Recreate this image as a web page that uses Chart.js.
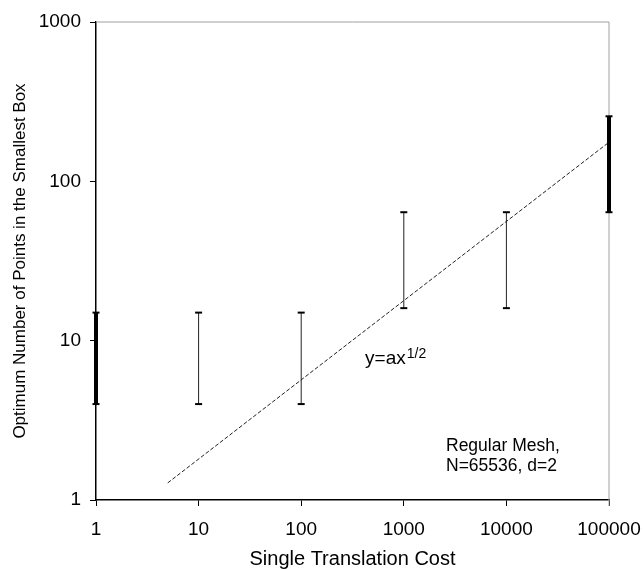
<!DOCTYPE html>
<html>
<head>
<meta charset="utf-8">
<script src="https://cdn.jsdelivr.net/npm/chart.js@4.4.1/dist/chart.umd.min.js"></script>
<style>
  html, body { margin: 0; padding: 0; background: #fff; }
  #wrap { width: 644px; height: 569px; }
</style>
</head>
<body>
<div id="wrap"><canvas id="chart" width="644" height="569"></canvas></div>
<script>
// error bars: translation cost -> range of optimum box size
const costs = [1, 10, 100, 1000, 10000, 100000];
const lowVals = [4, 4, 4, 16, 16, 64];
const highVals = [15, 15, 15, 64, 64, 256];
const thickBars = [true, false, false, false, false, true];

// fitted y = a x^(1/2) guide line (end points)
const fitX = [5, 100000];
const fitY = [1.28, 176];

const xTicks = [1, 10, 100, 1000, 10000, 100000];
const yTicks = [1, 10, 100, 1000];

const FONT = "'Liberation Sans', Arial, sans-serif";

const datasets = costs.map((c, i) => ({
  data: [{ x: c, y: lowVals[i] }, { x: c, y: highVals[i] }],
  borderColor: thickBars[i] ? "#000" : "#222",
  borderWidth: thickBars[i] ? 4 : 1,
  pointStyle: "line",
  pointRadius: 3.5,
  pointBorderWidth: 2,
  pointBorderColor: "#000",
  showLine: true,
  clip: false,
}));

datasets.push({
  data: fitX.map((x, i) => ({ x, y: fitY[i] })),
  borderColor: "#222",
  borderWidth: 1,
  borderDash: [4, 2],
  pointRadius: 0,
  showLine: true,
});

const decor = {
  id: "decor",
  beforeDatasetsDraw(chart) {
    const { ctx, chartArea } = chart;
    ctx.save();
    ctx.strokeStyle = "#a0a0a0";
    ctx.lineWidth = 1;
    ctx.beginPath();
    ctx.moveTo(chartArea.left, chartArea.top);
    ctx.lineTo(chartArea.right, chartArea.top);
    ctx.lineTo(chartArea.right, chartArea.bottom + 6);
    ctx.stroke();
    ctx.restore();
  },
  afterDraw(chart) {
    const { ctx } = chart;
    const xs = chart.scales.x, ys = chart.scales.y;
    ctx.save();
    ctx.fillStyle = "#000";
    ctx.textBaseline = "alphabetic";
    ctx.textAlign = "left";
    ctx.font = "19px " + FONT;
    let px = xs.getPixelForValue(419), py = ys.getPixelForValue(7.1);
    ctx.fillText("y=ax", px, py);
    const w = ctx.measureText("y=ax").width;
    ctx.font = "14px " + FONT;
    ctx.fillText("1/2", px + w + 1, py - 6);
    ctx.font = "17.5px " + FONT;
    px = xs.getPixelForValue(2578);
    ctx.fillText("Regular Mesh,", px, ys.getPixelForValue(2.02));
    ctx.fillText("N=65536, d=2", px, ys.getPixelForValue(1.51));
    ctx.restore();
  },
};

new Chart(document.getElementById("chart"), {
  type: "scatter",
  data: { datasets },
  options: {
    responsive: false,
    animation: false,
    layout: { padding: { top: 22, right: 35, left: 0, bottom: 0 } },
    plugins: { legend: { display: false }, tooltip: { enabled: false } },
    scales: {
      x: {
        type: "logarithmic",
        min: 1,
        max: 100000,
        afterBuildTicks: (s) => { s.ticks = xTicks.map((v) => ({ value: v })); },
        afterFit: (s) => { s.height = 69; s.paddingLeft = 0; s.paddingRight = 0; },
        ticks: {
          color: "#000",
          font: { family: FONT, size: 19 },
          padding: 12,
          maxRotation: 0,
          autoSkip: false,
          callback: (v) => String(v),
        },
        grid: { drawOnChartArea: false, tickLength: 6, color: "#000" },
        border: { color: "#000", width: 1.5 },
        title: {
          display: true,
          text: "Single Translation Cost",
          color: "#000",
          font: { family: FONT, size: 20, lineHeight: 1 },
          padding: { top: 0, bottom: 0 },
        },
      },
      y: {
        type: "logarithmic",
        min: 1,
        max: 1000,
        afterBuildTicks: (s) => { s.ticks = yTicks.map((v) => ({ value: v })); },
        afterFit: (s) => { s.width = 96; s.paddingTop = 0; s.paddingBottom = 0; },
        ticks: {
          color: "#000",
          font: { family: FONT, size: 19 },
          padding: 9,
          autoSkip: false,
          callback: (v) => String(v),
        },
        grid: { drawOnChartArea: false, tickLength: 6, color: "#000" },
        border: { color: "#000", width: 1.5 },
        title: {
          display: true,
          text: "Optimum Number of Points in the Smallest Box",
          color: "#000",
          font: { family: FONT, size: 17, lineHeight: 1.2 },
          padding: { top: 10, bottom: 0 },
        },
      },
    },
  },
  plugins: [decor],
});
</script>
</body>
</html>
